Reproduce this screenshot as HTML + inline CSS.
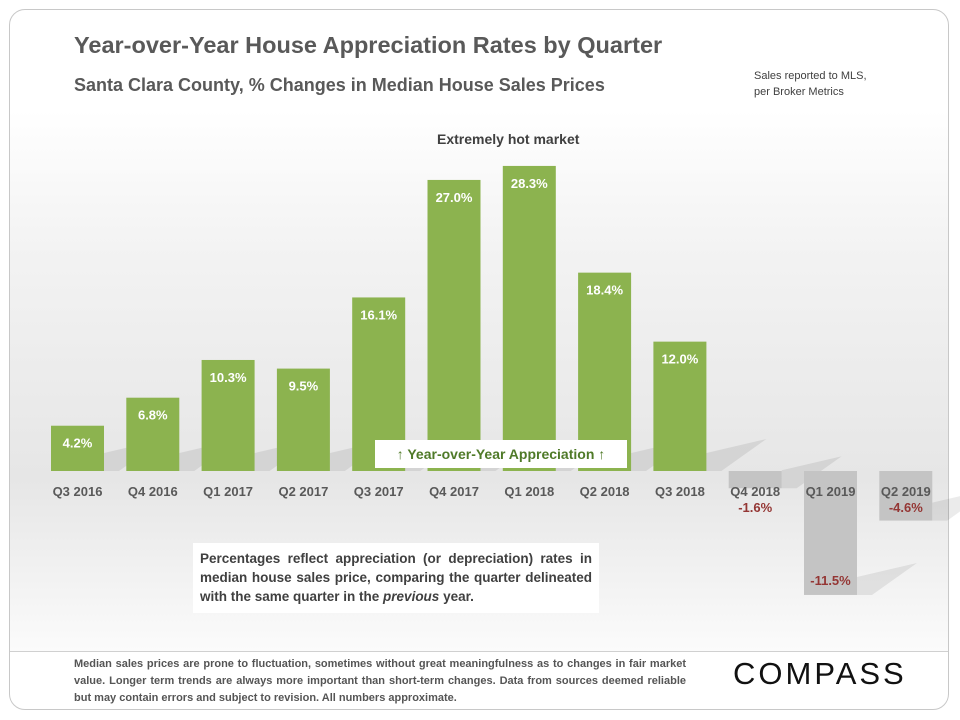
<!DOCTYPE html>
<html><head><meta charset="utf-8"><style>
html,body{margin:0;padding:0;background:#fff;}
body{width:960px;height:720px;position:relative;overflow:hidden;font-family:"Liberation Sans",sans-serif;}
.card{position:absolute;left:9px;top:9px;width:940px;height:701px;border:1px solid #c8c8c8;border-radius:16px;box-sizing:border-box;overflow:hidden;}
.panel{position:absolute;left:0;top:100px;width:940px;height:541px;border-bottom:1px solid #d0d0d0;
background:linear-gradient(to bottom,#ffffff 0%,#f3f3f3 25%,#e6e6e6 68%,#f1f1f1 85%,#fbfbfb 100%);}
.t{position:absolute;white-space:nowrap;font-weight:bold;}
</style></head><body>
<div class="card">
<div class="panel"></div>
</div>
<div class="t" style="left:74px;top:32px;font-size:23.5px;color:#595959;">Year-over-Year House Appreciation Rates by Quarter</div>
<div class="t" style="left:74px;top:75px;font-size:18px;color:#595959;">Santa Clara County, % Changes in Median House Sales Prices</div>
<div class="t" style="left:754px;top:68px;font-size:11px;line-height:16px;color:#404040;font-weight:normal;">Sales reported to MLS,<br>per Broker Metrics</div>
<div class="t" style="left:437px;top:131px;font-size:14px;color:#404040;">Extremely hot market</div>
<svg id="chart" width="960" height="720" style="position:absolute;left:0;top:0"></svg>
<div class="t" style="left:375px;top:440px;width:252px;height:28px;background:#fff;color:#4f7a28;font-size:14px;line-height:28px;text-align:center;">↑ Year-over-Year Appreciation ↑</div>
<div style="position:absolute;left:193px;top:543px;width:406px;height:70px;background:#fff;padding:6px 7px;box-sizing:border-box;font-size:13.5px;font-weight:bold;color:#404040;line-height:19px;text-align:justify;">Percentages reflect appreciation (or depreciation) rates in median house sales price, comparing the quarter delineated with the same quarter in the <i>previous</i> year.</div>
<div style="position:absolute;left:74px;top:656px;width:612px;font-size:11px;font-weight:bold;color:#555;line-height:17px;text-align:justify;">Median sales prices are prone to fluctuation, sometimes without great meaningfulness as to changes in fair market value. Longer term trends are always more important than short-term changes. Data from sources deemed reliable but may contain errors and subject to revision. All numbers approximate.</div>
<div class="t" style="left:733px;top:656px;font-size:31px;font-weight:normal;letter-spacing:3px;color:#111;">COMPASS</div>
<script>
const categories=["Q3 2016","Q4 2016","Q1 2017","Q2 2017","Q3 2017","Q4 2017","Q1 2018","Q2 2018","Q3 2018","Q4 2018","Q1 2019","Q2 2019"];
const values=[4.2,6.8,10.3,9.5,16.1,27.0,28.3,18.4,12.0,-1.6,-11.5,-4.6];
const labels=["4.2%","6.8%","10.3%","9.5%","16.1%","27.0%","28.3%","18.4%","12.0%","-1.6%","-11.5%","-4.6%"];
const svg=document.getElementById('chart');
const NS='http://www.w3.org/2000/svg';
const base=471, scale=10.78, x0=51, pitch=75.3, bw=53;
function y(v){return base-v*scale;}
function xl(i){return x0+i*pitch;}
function mk(tag,attrs){const e=document.createElementNS(NS,tag);for(const k in attrs)e.setAttribute(k,attrs[k]);svg.appendChild(e);return e;}
values.forEach((v,i)=>{
  const x=xl(i), top=Math.min(y(v),base), bot=Math.max(y(v),base);
  const sb=v>=0?base:bot;
  const sh=mk('polygon',{points:`${x+bw},${sb-18} ${x+bw+60},${sb-32} ${x+bw+15},${sb} ${x+bw},${sb}`,fill:'rgba(0,0,0,0.08)'});
  
  
  const r=mk('rect',{x:x,y:top,width:bw,height:bot-top,fill:v>=0?'#8cb34f':'#c4c4c4'});
  
  
  const c=mk('text',{x:x+bw/2,y:base+25,'text-anchor':'middle','font-size':'13','font-weight':'bold',fill:'#595959','font-family':'Liberation Sans, sans-serif'});
  c.textContent=categories[i];
  
  
  let ly, col;
  if(v>=0){ly=top+22;col='#fff';}else{ly=Math.max(bot-15,507)+5;col='#943634';}
  const t=mk('text',{x:x+bw/2,y:ly,'text-anchor':'middle','font-size':'13','font-weight':'bold',fill:col,'font-family':'Liberation Sans, sans-serif'});
  t.textContent=labels[i];
  
  
});
</script>
</body></html>
